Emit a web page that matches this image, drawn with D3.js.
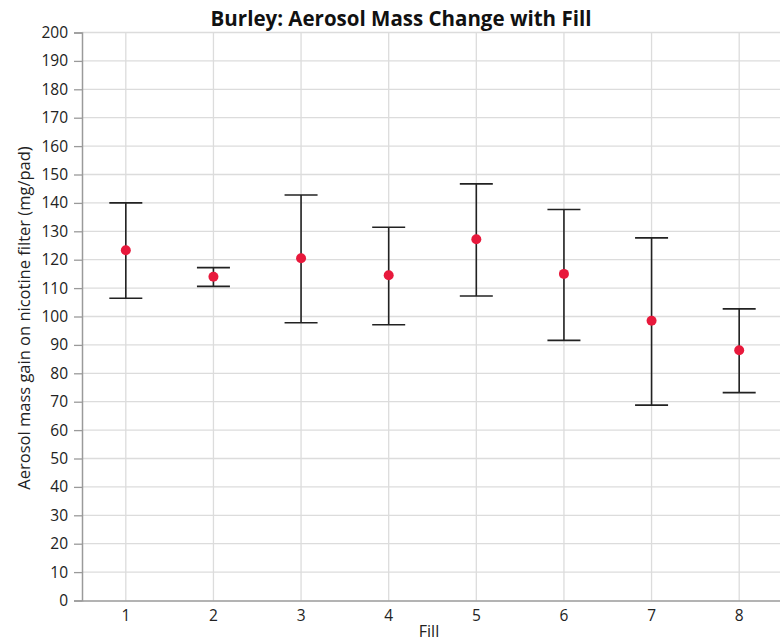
<!DOCTYPE html>
<html>
<head>
<meta charset="utf-8">
<script src="https://cdn.jsdelivr.net/npm/d3@7"></script>
<style>
  body { margin: 0; background: #fff; }
  text { font-family: "Open Sans", "Noto Sans", sans-serif; }
</style>
</head>
<body>
<div id="chart"></div>
<script>
// data
var fills = ["1", "2", "3", "4", "5", "6", "7", "8"];
var means = [123.3, 114.0, 120.5, 114.5, 127.2, 115.0, 98.5, 88.1];
var upper = [140.0, 117.2, 142.8, 131.4, 146.7, 137.7, 127.7, 102.7];
var lower = [106.4, 110.6, 97.8, 97.1, 107.2, 91.6, 68.8, 73.2];
var yTicks = d3.range(0, 201, 10);

var W = 780, H = 643;
var margin = {top: 32.5, right: -3, bottom: 42.5, left: 82};
var width = W - margin.left - margin.right,
    height = H - margin.top - margin.bottom;

var svg = d3.select("#chart").append("svg")
    .attr("width", W)
    .attr("height", H);

var g = svg.append("g")
    .attr("transform", "translate(" + margin.left + "," + margin.top + ")");

var x = d3.scaleBand().domain(fills).range([0, width]);
var y = d3.scaleLinear().domain([0, 200]).range([height, 0]);

// grid
g.append("g").selectAll("line.hgrid")
  .data(yTicks.slice(1))
  .enter().append("line")
    .attr("x1", 0).attr("x2", width)
    .attr("y1", function(d) { return y(d); })
    .attr("y2", function(d) { return y(d); })
    .attr("stroke", "#dcdcdc").attr("stroke-width", 1.3);

g.append("g").selectAll("line.vgrid")
  .data(fills)
  .enter().append("line")
    .attr("x1", function(d) { return x(d) + x.bandwidth() / 2; })
    .attr("x2", function(d) { return x(d) + x.bandwidth() / 2; })
    .attr("y1", 0).attr("y2", height)
    .attr("stroke", "#dcdcdc").attr("stroke-width", 1.3);

// axes
var yAxis = g.append("g")
    .call(d3.axisLeft(y).tickValues(yTicks).tickSize(8).tickPadding(6));
yAxis.select(".domain").attr("stroke", "#9a9a9a").attr("stroke-width", 1.5);
yAxis.selectAll(".tick line").attr("stroke", "#9a9a9a").attr("stroke-width", 1.3);
yAxis.selectAll("text").attr("font-size", 15.5).attr("fill", "#222")
    .attr("font-family", "'Open Sans', sans-serif");

var xAxis = g.append("g")
    .attr("transform", "translate(0," + height + ")")
    .call(d3.axisBottom(x).tickSize(0).tickPadding(9));
xAxis.select(".domain").attr("stroke", "#9a9a9a").attr("stroke-width", 1.5);
xAxis.selectAll("text").attr("font-size", 15.5).attr("fill", "#222")
    .attr("font-family", "'Open Sans', sans-serif");

// error bars
var capHalf = 16.5;
var bars = g.append("g").selectAll("g.err")
  .data(fills)
  .enter().append("g");

bars.append("line")
    .attr("x1", function(d) { return x(d) + x.bandwidth() / 2; })
    .attr("x2", function(d) { return x(d) + x.bandwidth() / 2; })
    .attr("y1", function(d, i) { return y(upper[i]); })
    .attr("y2", function(d, i) { return y(lower[i]); })
    .attr("stroke", "#222").attr("stroke-width", 1.6);

bars.append("line")
    .attr("x1", function(d) { return x(d) + x.bandwidth() / 2 - capHalf; })
    .attr("x2", function(d) { return x(d) + x.bandwidth() / 2 + capHalf; })
    .attr("y1", function(d, i) { return y(upper[i]); })
    .attr("y2", function(d, i) { return y(upper[i]); })
    .attr("stroke", "#222").attr("stroke-width", 1.6);

bars.append("line")
    .attr("x1", function(d) { return x(d) + x.bandwidth() / 2 - capHalf; })
    .attr("x2", function(d) { return x(d) + x.bandwidth() / 2 + capHalf; })
    .attr("y1", function(d, i) { return y(lower[i]); })
    .attr("y2", function(d, i) { return y(lower[i]); })
    .attr("stroke", "#222").attr("stroke-width", 1.6);

bars.append("circle")
    .attr("cx", function(d) { return x(d) + x.bandwidth() / 2; })
    .attr("cy", function(d, i) { return y(means[i]); })
    .attr("r", 5)
    .attr("fill", "#e8193c");

// titles
svg.append("text")
    .attr("x", 401).attr("y", 26)
    .attr("text-anchor", "middle")
    .attr("font-size", 20.5).attr("font-weight", "bold").attr("fill", "#111")
    .text("Burley: Aerosol Mass Change with Fill");

svg.append("text")
    .attr("x", 429).attr("y", 637)
    .attr("text-anchor", "middle")
    .attr("font-size", 16).attr("fill", "#222")
    .text("Fill");

svg.append("text")
    .attr("transform", "translate(30," + 318 + ") rotate(-90)")
    .attr("text-anchor", "middle")
    .attr("font-size", 16.5).attr("fill", "#222")
    .text("Aerosol mass gain on nicotine filter (mg/pad)");
</script>
</body>
</html>
